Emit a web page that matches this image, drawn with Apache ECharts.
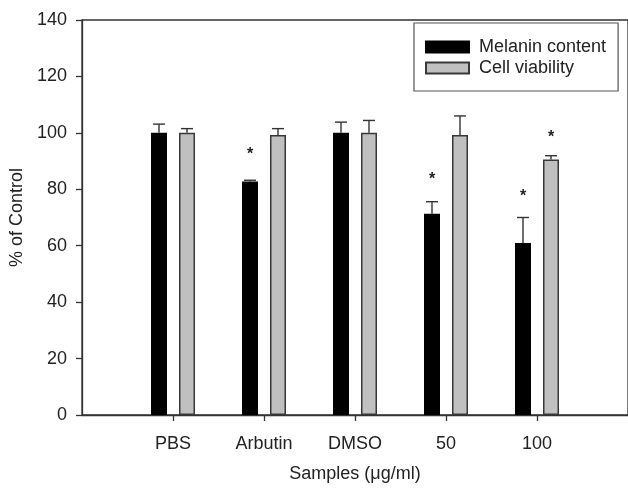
<!DOCTYPE html>
<html>
<head>
<meta charset="utf-8">
<script src="https://cdn.jsdelivr.net/npm/echarts@6/dist/echarts.min.js"></script>
<style>html,body{margin:0;padding:0;background:#fff}#c{width:628px;height:488px}</style>
</head>
<body>
<div id="c"></div>
<script>
const categories = ['PBS', 'Arbutin', 'DMSO', '50', '100'];
const melanin = [100, 82.8, 100, 71.3, 61.0];
const melaninErr = [3.1, 0.4, 3.8, 4.3, 9.0];
const viability = [100, 99.2, 100, 99.2, 90.6];
const viabilityErr = [1.5, 2.3, 4.4, 6.8, 1.3];
const melaninStar = [null, 93.4, null, 84.8, 78.5];
const viabilityStar = [null, null, null, null, 99.4];
const seriesNames = ['Melanin content', 'Cell viability'];
const yMin = 0, yMax = 140, yStep = 20;

const FONT = 'Liberation Sans, Arial, Helvetica, sans-serif';
const BAR_W = 16, BAR_GAP = 0.75;
const OFF = (BAR_W + BAR_W * BAR_GAP) / 2;
const AX = '#333';

function errRender(offset) {
  return function (params, api) {
    const x = api.value(0), m = api.value(1), e = api.value(2);
    const p0 = api.coord([x, m]);
    const p1 = api.coord([x, m + e]);
    const cx = p0[0] + offset;
    const st = { stroke: '#333', lineWidth: 1.4 };
    return {
      type: 'group',
      children: [
        { type: 'line', shape: { x1: cx, y1: p0[1], x2: cx, y2: p1[1] }, style: st },
        { type: 'line', shape: { x1: cx - 6, y1: p1[1], x2: cx + 6, y2: p1[1] }, style: st }
      ]
    };
  };
}
function starRender(offset) {
  return function (params, api) {
    const p = api.coord([api.value(0), api.value(1)]);
    return {
      type: 'text',
      x: p[0] + offset,
      y: p[1] + 3.5,
      style: { text: '*', fontSize: 16, fontWeight: 'bold', fontFamily: FONT, fill: '#222', textAlign: 'center', textVerticalAlign: 'middle' }
    };
  };
}
const pts = (arr) => categories.map((c, i) => [i + 1, arr[i]]);
const errPts = (arr, err) => categories.map((c, i) => [i + 1, arr[i], err[i]]);
const starPts = (arr) => arr.map((v, i) => v == null ? null : [i + 1, v]).filter(d => d);
const idx = [1, 2, 3, 4, 5];

const chart = echarts.init(document.getElementById('c'), null, { renderer: 'canvas' });
chart.setOption({
  backgroundColor: '#fff',
  animation: false,
  textStyle: { fontFamily: FONT },
  grid: { left: 82, top: 20, width: 556, height: 402, show: true, borderColor: AX, borderWidth: 1.3, backgroundColor: 'transparent' },
  legend: {
    data: seriesNames,
    orient: 'vertical',
    left: 414, top: 23,
    itemWidth: 43, itemHeight: 11, itemGap: 3,
    padding: [15, 12, 14, 11],
    borderColor: '#555', borderWidth: 1.2,
    icon: 'rect',
    textStyle: { fontSize: 18, color: '#222', fontFamily: FONT, padding: [0, 0, 0, 5] }
  },
  xAxis: {
    type: 'value', min: 0, max: 6, interval: 1,
    name: 'Samples (\u03bcg/ml)', nameLocation: 'middle', nameGap: 50,
    nameTextStyle: { fontSize: 18, color: '#222', fontFamily: FONT },
    axisLine: { show: true, lineStyle: { color: AX, width: 1.3 } },
    axisTick: { show: true, length: 6, customValues: idx, lineStyle: { color: AX, width: 1.3 } },
    axisLabel: { customValues: idx, fontSize: 18, color: '#222', margin: 20, fontFamily: FONT,
      formatter: (v) => categories[Math.round(v) - 1] || '' },
    splitLine: { show: false }
  },
  yAxis: {
    type: 'value', min: yMin, max: yMax, interval: yStep,
    name: '% of Control', nameLocation: 'middle', nameGap: 50, nameRotate: 90,
    nameTextStyle: { fontSize: 18, color: '#222', fontFamily: FONT },
    axisLine: { show: true, lineStyle: { color: AX, width: 1.3 } },
    axisTick: { show: true, length: 6, lineStyle: { color: AX, width: 1.3 } },
    axisLabel: { fontSize: 18, color: '#222', margin: 15, fontFamily: FONT },
    splitLine: { show: false }
  },
  series: [
    { name: seriesNames[0], type: 'bar', data: pts(melanin), barWidth: BAR_W, barGap: (BAR_GAP * 100) + '%',
      itemStyle: { color: '#000', borderColor: '#000', borderWidth: 1.5 } },
    { name: seriesNames[1], type: 'bar', data: pts(viability), barWidth: BAR_W, barGap: (BAR_GAP * 100) + '%',
      itemStyle: { color: '#c0c0c0', borderColor: '#383838', borderWidth: 1.5 } },
    { name: 'errM', type: 'custom', renderItem: errRender(-OFF), data: errPts(melanin, melaninErr), z: 5 },
    { name: 'errV', type: 'custom', renderItem: errRender(OFF), data: errPts(viability, viabilityErr), z: 5 },
    { name: 'starM', type: 'custom', renderItem: starRender(-OFF), data: starPts(melaninStar), z: 6 },
    { name: 'starV', type: 'custom', renderItem: starRender(OFF), data: starPts(viabilityStar), z: 6 }
  ]
});
</script>
</body>
</html>
